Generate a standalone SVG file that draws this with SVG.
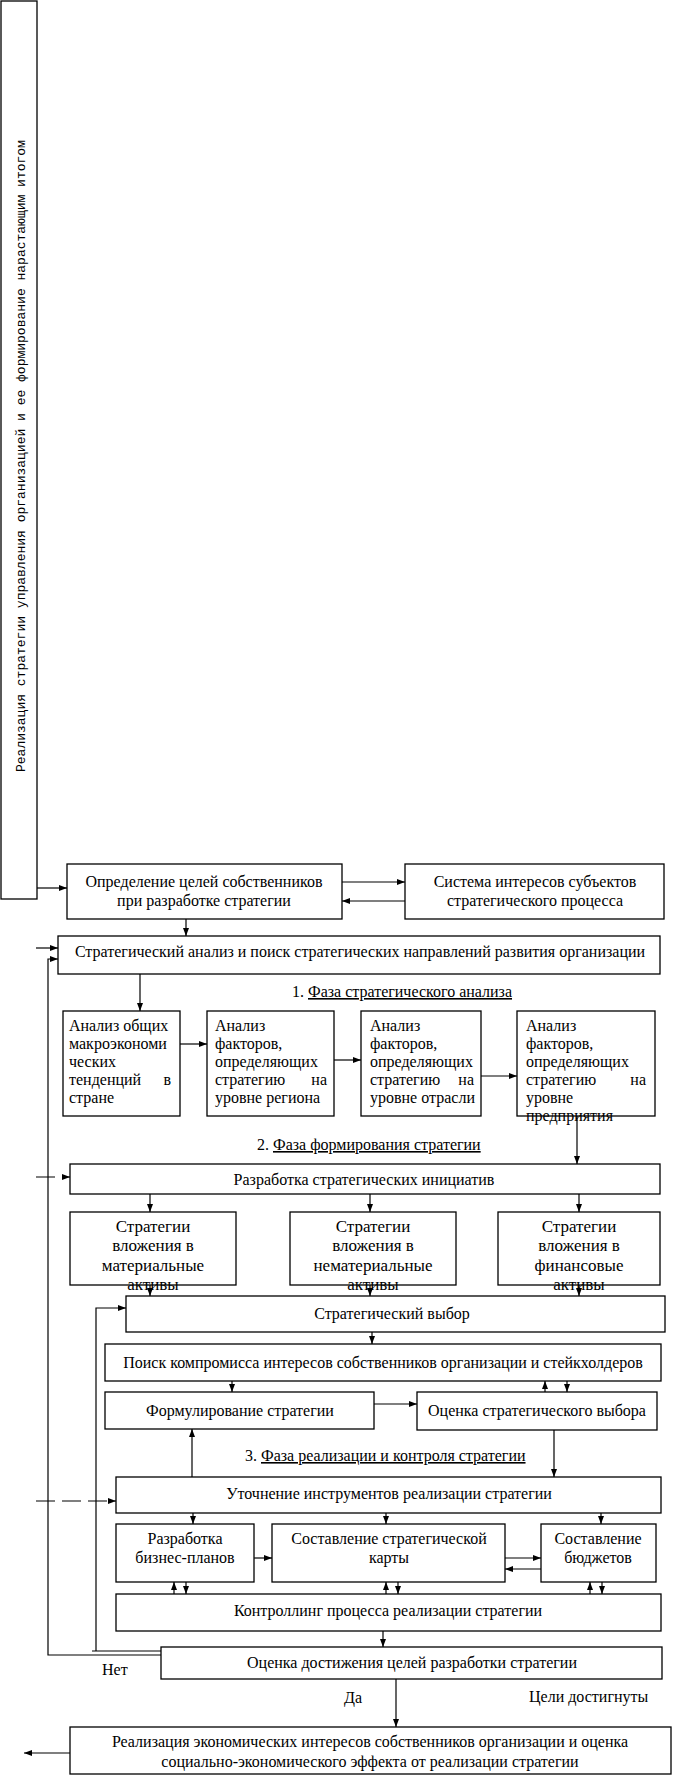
<svg xmlns="http://www.w3.org/2000/svg" width="674" height="1778" viewBox="0 0 674 1778">
<style>
.b{fill:#fff;stroke:#000;stroke-width:1.3}
.t{font-family:"Liberation Serif","Times New Roman",serif;font-size:16px;fill:#000}
.s{font-size:17px}
.c{text-anchor:middle}
.e{text-anchor:end}
.m{font-family:"Liberation Mono","Courier New",monospace;font-size:13px;fill:#000}
.l{stroke:#000;stroke-width:1.2;fill:none}
.a{marker-end:url(#ah)}
.d{stroke-dasharray:19 7}
</style>
<defs>
<marker id="ah" viewBox="0 0 8 6" refX="8" refY="3" markerWidth="8" markerHeight="6" orient="auto" markerUnits="userSpaceOnUse"><path d="M0,0 L8,3 L0,6 z" fill="#000"/></marker>
</defs>
<rect width="674" height="1778" fill="#fff"/>

<g id="vbox">
<rect class="b" x="1" y="1" width="36" height="898"/>
<text class="m" transform="translate(25,772) rotate(-90)">Реализация стратегии управления организацией  и  ее формирование нарастающим итогом</text>
</g>

<g id="opr">
<rect class="b" x="67" y="864" width="275" height="55"/>
<text class="t c" x="204" y="887">Определение целей собственников</text>
<text class="t c" x="204" y="906">при разработке стратегии</text>
</g>
<g id="sys">
<rect class="b" x="405" y="864" width="259" height="55"/>
<text class="t c" x="535" y="887">Система интересов субъектов</text>
<text class="t c" x="535" y="906">стратегического процесса</text>
</g>
<g id="sa">
<rect class="b" x="58" y="936" width="602" height="38"/>
<text class="t c" x="360" y="957">Стратегический анализ и поиск стратегических направлений развития организации</text>
</g>
<g id="phase1">
<text class="t" x="292" y="997">1. <tspan text-decoration="underline">Фаза стратегического анализа</tspan></text>
</g>

<g id="an1">
<rect class="b" x="63" y="1011" width="117" height="105"/>
<text class="t" x="69" y="1031">Анализ общих</text>
<text class="t" x="69" y="1049">макроэкономи</text>
<text class="t" x="69" y="1067">ческих</text>
<text class="t" x="69" y="1085">тенденций</text><text class="t e" x="171" y="1085">в</text>
<text class="t" x="69" y="1103">стране</text>
</g>
<g id="an2">
<rect class="b" x="207" y="1011" width="127" height="105"/>
<text class="t" x="215" y="1031">Анализ</text>
<text class="t" x="215" y="1049">факторов,</text>
<text class="t" x="215" y="1067">определяющих</text>
<text class="t" x="215" y="1085">стратегию</text><text class="t e" x="327" y="1085">на</text>
<text class="t" x="215" y="1103">уровне региона</text>
</g>
<g id="an3">
<rect class="b" x="361" y="1011" width="120" height="105"/>
<text class="t" x="370" y="1031">Анализ</text>
<text class="t" x="370" y="1049">факторов,</text>
<text class="t" x="370" y="1067">определяющих</text>
<text class="t" x="370" y="1085">стратегию</text><text class="t e" x="474" y="1085">на</text>
<text class="t" x="370" y="1103">уровне отрасли</text>
</g>
<g id="an4">
<rect class="b" x="517" y="1011" width="138" height="105"/>
<text class="t" x="526" y="1031">Анализ</text>
<text class="t" x="526" y="1049">факторов,</text>
<text class="t" x="526" y="1067">определяющих</text>
<text class="t" x="526" y="1085">стратегию</text><text class="t e" x="646" y="1085">на</text>
<text class="t" x="526" y="1103">уровне</text>
<text class="t" x="526" y="1121">предприятия</text>
</g>

<g id="phase2">
<text class="t" x="257" y="1150">2. <tspan text-decoration="underline">Фаза формирования стратегии</tspan></text>
</g>
<g id="razr">
<rect class="b" x="70" y="1164" width="590" height="30"/>
<text class="t c" x="364" y="1185">Разработка стратегических инициатив</text>
</g>
<g id="st1">
<rect class="b" x="70" y="1212" width="166" height="73"/>
<text class="t s c" x="153" y="1232">Стратегии</text>
<text class="t s c" x="153" y="1251">вложения в</text>
<text class="t s c" x="153" y="1271">материальные</text>
<text class="t s c" x="153" y="1290">активы</text>
</g>
<g id="st2">
<rect class="b" x="290" y="1212" width="166" height="73"/>
<text class="t s c" x="373" y="1232">Стратегии</text>
<text class="t s c" x="373" y="1251">вложения в</text>
<text class="t s c" x="373" y="1271">нематериальные</text>
<text class="t s c" x="373" y="1290">активы</text>
</g>
<g id="st3">
<rect class="b" x="498" y="1212" width="162" height="73"/>
<text class="t s c" x="579" y="1232">Стратегии</text>
<text class="t s c" x="579" y="1251">вложения в</text>
<text class="t s c" x="579" y="1271">финансовые</text>
<text class="t s c" x="579" y="1290">активы</text>
</g>
<g id="vybor">
<rect class="b" x="126" y="1296" width="539" height="36"/>
<text class="t c" x="392" y="1319">Стратегический выбор</text>
</g>
<g id="poisk">
<rect class="b" x="105" y="1344" width="556" height="37"/>
<text class="t c" x="383" y="1368">Поиск компромисса интересов собственников организации и стейкхолдеров</text>
</g>
<g id="form">
<rect class="b" x="105" y="1392" width="269" height="37"/>
<text class="t c" x="240" y="1416">Формулирование стратегии</text>
</g>
<g id="ocv">
<rect class="b" x="417" y="1392" width="240" height="38"/>
<text class="t c" x="537" y="1416">Оценка стратегического выбора</text>
</g>
<g id="phase3">
<text class="t" x="245" y="1461">3. <tspan text-decoration="underline">Фаза реализации и контроля стратегии</tspan></text>
</g>
<g id="utoch">
<rect class="b" x="116" y="1477" width="545" height="36"/>
<text class="t c" x="389" y="1499">Уточнение инструментов реализации стратегии</text>
</g>
<g id="biz">
<rect class="b" x="116" y="1524" width="138" height="58"/>
<text class="t c" x="185" y="1544">Разработка</text>
<text class="t c" x="185" y="1563">бизнес-планов</text>
</g>
<g id="karta">
<rect class="b" x="272" y="1524" width="233" height="58"/>
<text class="t c" x="389" y="1544">Составление стратегической</text>
<text class="t c" x="389" y="1563">карты</text>
</g>
<g id="budg">
<rect class="b" x="541" y="1524" width="115" height="58"/>
<text class="t c" x="598" y="1544">Составление</text>
<text class="t c" x="598" y="1563">бюджетов</text>
</g>
<g id="kontr">
<rect class="b" x="116" y="1594" width="545" height="37"/>
<text class="t c" x="388" y="1616">Контроллинг процесса реализации стратегии</text>
</g>
<g id="ocenka">
<rect class="b" x="161" y="1647" width="501" height="32"/>
<text class="t c" x="412" y="1668">Оценка достижения целей разработки стратегии</text>
</g>
<g id="real">
<rect class="b" x="70" y="1727" width="601" height="47"/>
<text class="t c" x="370" y="1747">Реализация экономических интересов собственников организации и оценка</text>
<text class="t c" x="370" y="1767">социально-экономического эффекта от реализации стратегии</text>
</g>
<g id="labels">
<text class="t" x="102" y="1675">Нет</text>
<text class="t" x="344" y="1703">Да</text>
<text class="t" x="529" y="1702">Цели достигнуты</text>
</g>

<g id="connectors">
<path class="l a" d="M37,888 H67"/>
<path class="l a" d="M342,882 H405"/>
<path class="l a" d="M405,901 H342"/>
<path class="l a" d="M186,919 V936"/>
<path class="l a" d="M36,948 H58"/>
<path class="l a" d="M161,1655 H48 V959 H58"/>
<path class="l a" d="M140,974 V1011"/>
<path class="l a" d="M180,1044 H207"/>
<path class="l a" d="M334,1060 H361"/>
<path class="l a" d="M481,1076 H517"/>
<path class="l a" d="M577,1116 V1164"/>
<path class="l a d" d="M36,1177 H70"/>
<path class="l a" d="M150,1194 V1212"/>
<path class="l a" d="M370,1194 V1212"/>
<path class="l a" d="M579,1194 V1212"/>
<path class="l a" d="M150,1285 V1296"/>
<path class="l a" d="M370,1285 V1296"/>
<path class="l a" d="M579,1285 V1296"/>
<path class="l" d="M161,1651 H92"/>
<path class="l a" d="M96,1651 V1308 H126"/>
<path class="l a" d="M372,1332 V1344"/>
<path class="l a" d="M232,1381 V1392"/>
<path class="l a" d="M545,1392 V1381"/>
<path class="l a" d="M567,1381 V1392"/>
<path class="l a" d="M374,1404 H417"/>
<path class="l a" d="M192,1477 V1429"/>
<path class="l a" d="M554,1430 V1477"/>
<path class="l a d" d="M36,1501 H116"/>
<path class="l a" d="M193,1513 V1524"/>
<path class="l a" d="M386,1513 V1524"/>
<path class="l a" d="M601,1513 V1524"/>
<path class="l a" d="M254,1558 H272"/>
<path class="l a" d="M505,1558 H541"/>
<path class="l a" d="M541,1569 H505"/>
<path class="l a" d="M174,1594 V1582"/>
<path class="l a" d="M186,1582 V1594"/>
<path class="l a" d="M386,1594 V1582"/>
<path class="l a" d="M398,1582 V1594"/>
<path class="l a" d="M590,1594 V1582"/>
<path class="l a" d="M602,1582 V1594"/>
<path class="l a" d="M383,1631 V1647"/>
<path class="l a" d="M396,1679 V1727"/>
<path class="l a" d="M70,1753 H24"/>
</g>
</svg>
